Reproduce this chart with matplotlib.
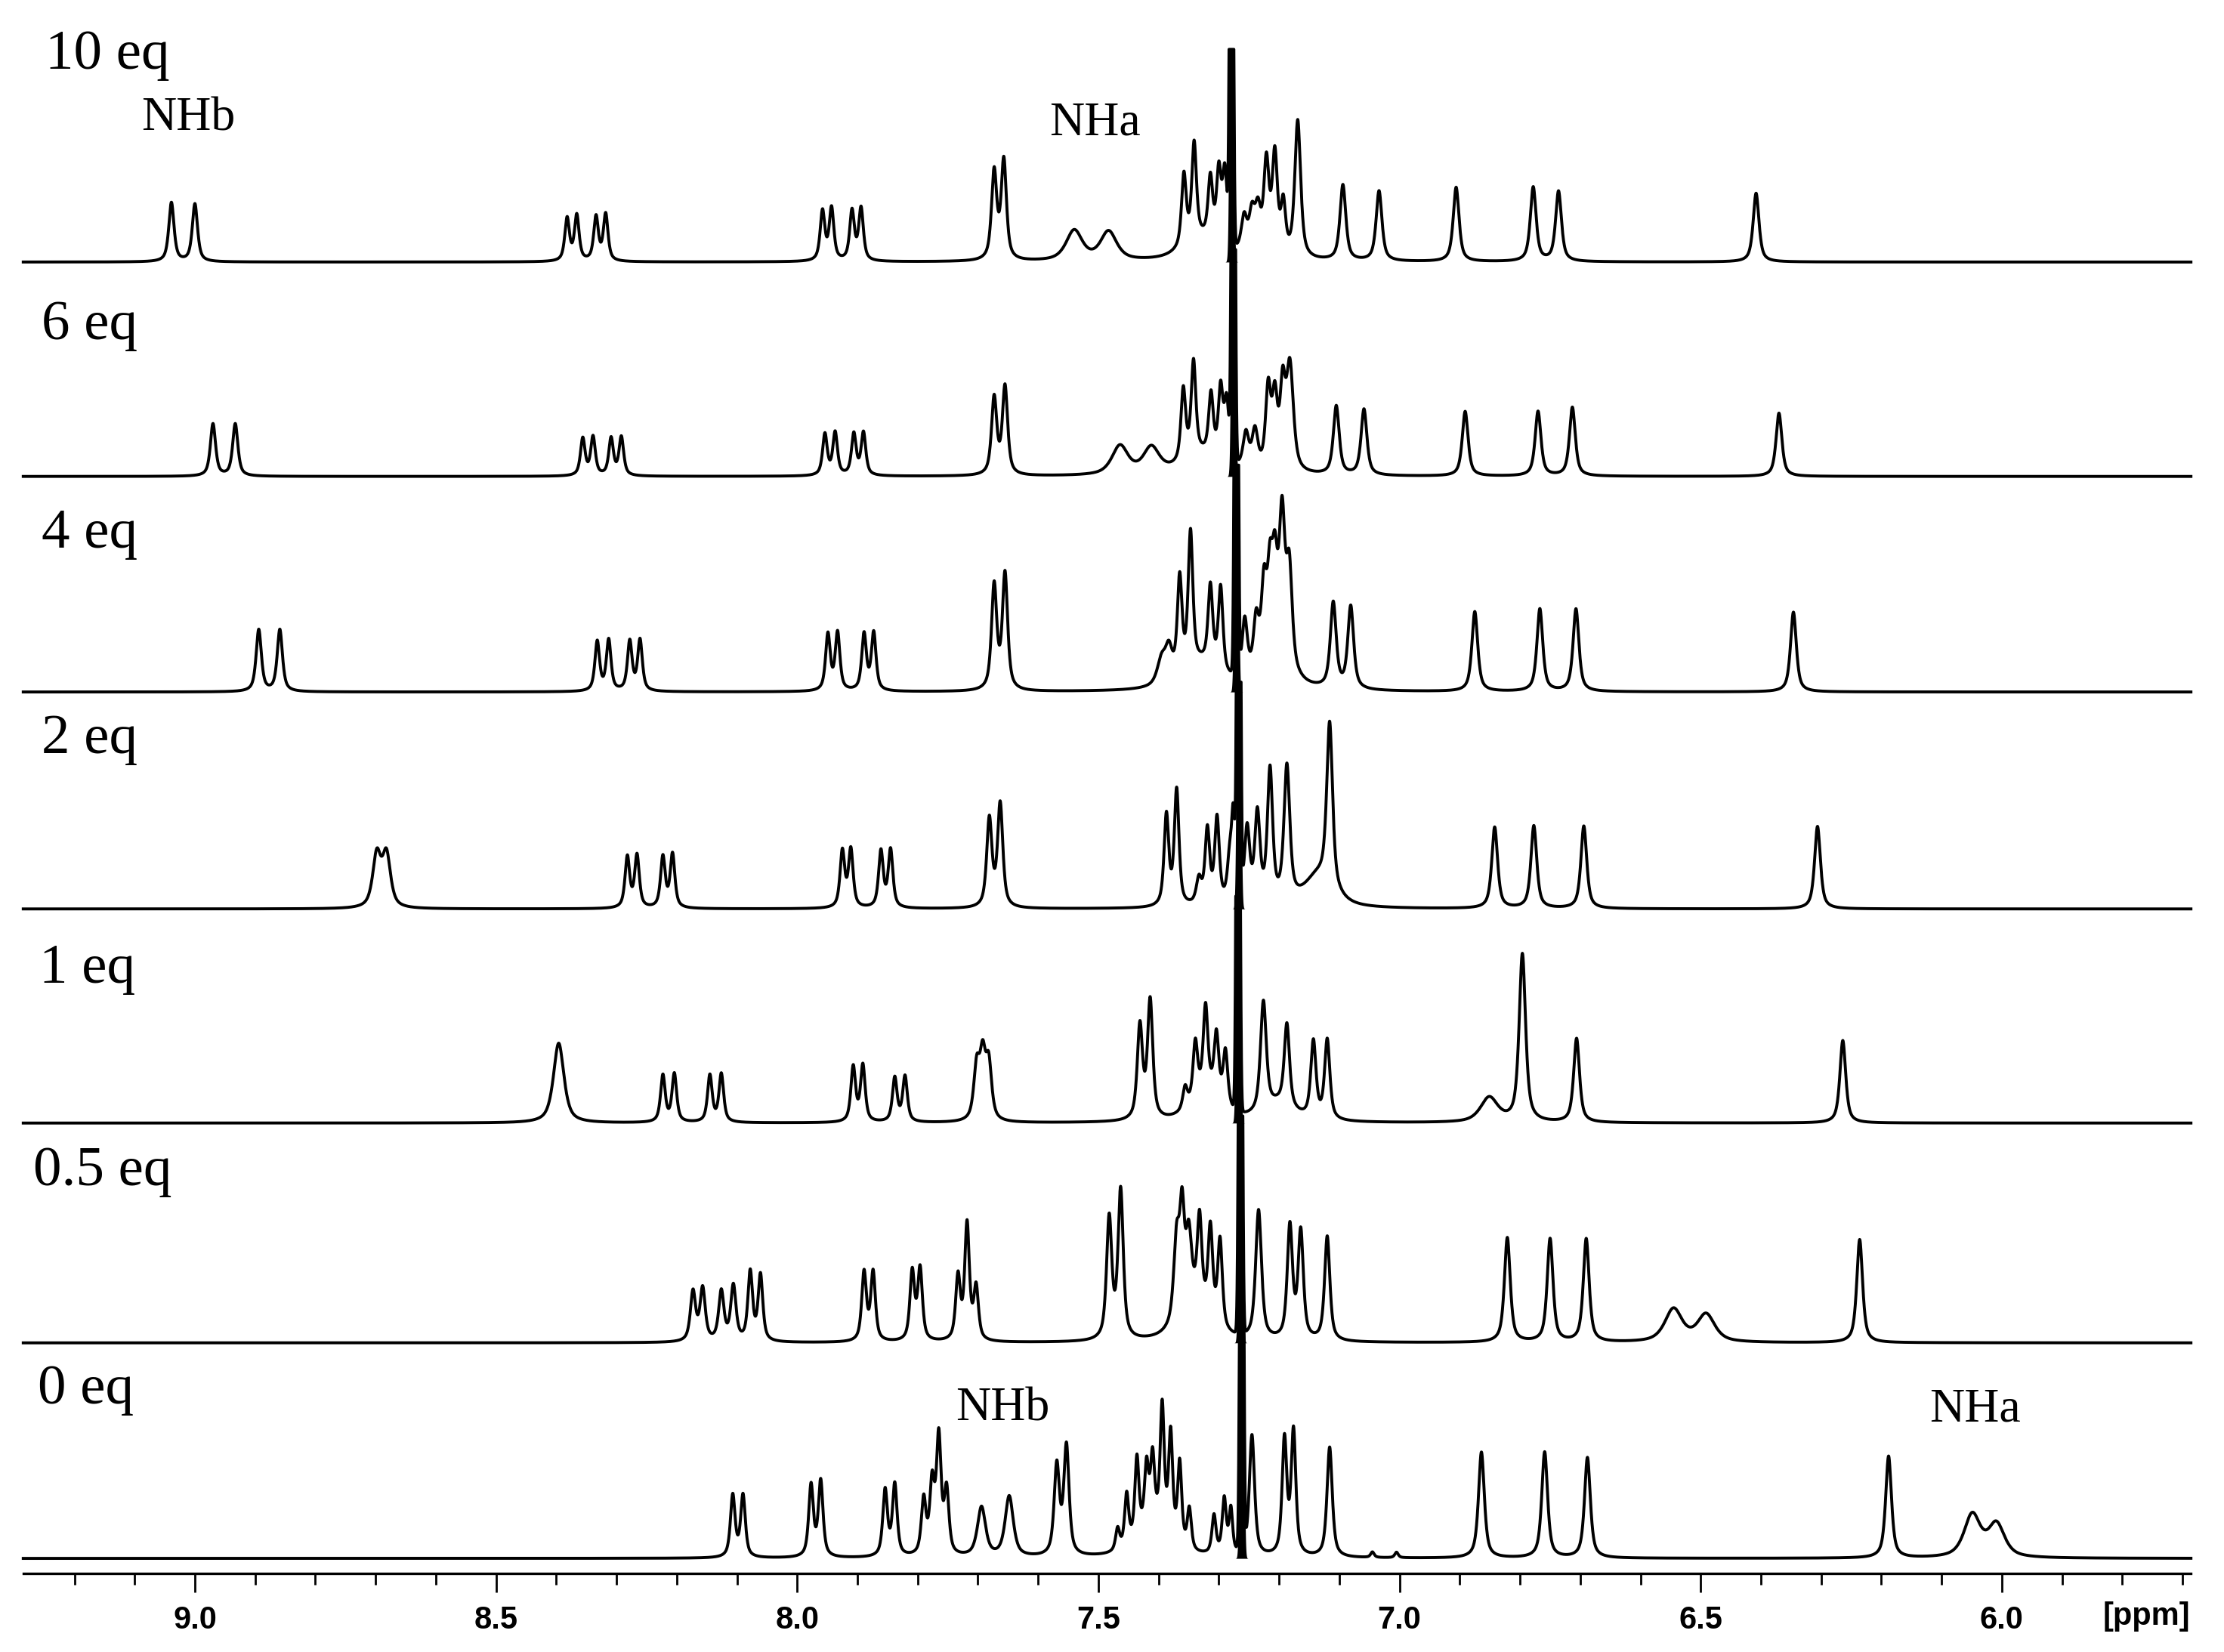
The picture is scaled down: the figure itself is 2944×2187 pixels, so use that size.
import numpy as np
import matplotlib
matplotlib.use('Agg')
import matplotlib.pyplot as plt
from matplotlib.ticker import MultipleLocator, FormatStrFormatter

# peak lists: (shift in ppm, height, width in ppm)
peaks_10eq = [(9.039, 43, .009), (9.000, 42, .009),
              (8.382, 31, .008), (8.366, 33, .008), (8.334, 32, .008), (8.318, 34, .008),
              (7.958, 36, .008), (7.943, 38, .008), (7.909, 36, .008), (7.894, 38, .008),
              (7.673, 64, .009), (7.657, 72, .009),
              (7.540, 22, .028), (7.483, 21, .028),
              (7.358, 52, .008), (7.341, 70, .008), (7.314, 45, .008), (7.300, 52, .008), (7.290, 55, .008), (7.33, 15, .06),
              (7.258, 26, .010), (7.245, 28, .010), (7.235, 30, .010),
              (7.221, 66, .009), (7.207, 72, .009), (7.193, 36, .008), (7.169, 100, .010),
              (7.094, 55, .010), (7.034, 51, .010), (6.906, 54, .010), (6.778, 54, .010), (6.736, 51, .010), (6.408, 50, .010)]

peaks_6eq = [(8.970, 38, .009), (8.933, 38, .009),
             (8.356, 27, .008), (8.339, 28, .008), (8.309, 27, .008), (8.292, 28, .008),
             (7.954, 30, .008), (7.937, 31, .008), (7.906, 30, .008), (7.890, 31, .008),
             (7.673, 56, .009), (7.655, 64, .009),
             (7.464, 21, .028), (7.412, 19, .028),
             (7.359, 52, .008), (7.342, 68, .008), (7.313, 45, .008), (7.297, 52, .008), (7.287, 45, .008), (7.33, 14, .06),
             (7.255, 26, .010), (7.240, 28, .010),
             (7.218, 58, .009), (7.207, 50, .009), (7.194, 56, .009), (7.182, 76, .012),
             (7.105, 50, .010), (7.059, 48, .010), (6.891, 47, .010), (6.770, 47, .010), (6.713, 50, .010), (6.370, 46, .010)]

peaks_4eq = [(8.894, 45, .009), (8.859, 45, .009),
             (8.332, 36, .008), (8.313, 37, .008), (8.278, 36, .008), (8.261, 37, .008),
             (7.949, 41, .008), (7.933, 42, .008), (7.889, 41, .008), (7.873, 42, .008),
             (7.673, 76, .009), (7.655, 84, .009),
             (7.395, 18, .015), (7.383, 22, .012),
             (7.365, 70, .008), (7.347, 98, .008), (7.314, 58, .008), (7.297, 62, .008), (7.33, 18, .06),
             (7.257, 42, .009), (7.238, 36, .009), (7.225, 54, .009), (7.215, 56, .009), (7.207, 60, .009),
             (7.195, 104, .010), (7.183, 72, .010), (7.21, 20, .05),
             (7.110, 62, .010), (7.081, 60, .010), (6.875, 58, .010), (6.767, 60, .010), (6.707, 60, .010), (6.346, 58, .010)]

peaks_2eq = [(8.698, 38, .014), (8.682, 38, .014),
             (8.282, 37, .008), (8.266, 38, .008), (8.223, 37, .008), (8.207, 39, .008),
             (7.925, 41, .008), (7.911, 42, .008), (7.861, 41, .008), (7.845, 42, .008),
             (7.681, 64, .009), (7.663, 75, .009),
             (7.387, 66, .008), (7.370, 84, .008), (7.333, 18, .009), (7.319, 54, .008), (7.303, 62, .008),
             (7.282, 30, .008), (7.276, 60, .006),
             (7.253, 54, .009), (7.236, 64, .009), (7.215, 96, .009), (7.187, 98, .010),
             (7.135, 22, .050), (7.116, 120, .010),
             (6.842, 59, .010), (6.777, 60, .010), (6.694, 60, .010), (6.306, 60, .010)]

peaks_1eq = [(8.396, 58, .018),
             (8.223, 34, .008), (8.204, 35, .008), (8.145, 34, .008), (8.126, 35, .008),
             (7.907, 40, .008), (7.891, 41, .008), (7.838, 32, .008), (7.821, 33, .008),
             (7.702, 38, .010), (7.692, 44, .010), (7.682, 40, .010),
             (7.431, 68, .009), (7.414, 86, .009),
             (7.356, 16, .008), (7.339, 42, .008), (7.322, 62, .008), (7.304, 46, .008), (7.289, 40, .008), (7.32, 20, .05),
             (7.226, 80, .010), (7.187, 60, .009), (7.143, 56, .009), (7.120, 58, .009), (7.20, 12, .05),
             (6.851, 18, .030), (6.796, 122, .011),
             (6.706, 61, .010), (6.264, 60, .010)]

peaks_05eq = [(8.173, 36, .009), (8.157, 38, .009), (8.126, 36, .009), (8.106, 40, .009), (8.078, 50, .008), (8.061, 48, .008),
              (7.889, 50, .008), (7.874, 50, .008),
              (7.809, 50, .008), (7.796, 52, .008),
              (7.733, 46, .008), (7.718, 84, .008), (7.703, 38, .008),
              (7.482, 88, .009), (7.463, 108, .009),
              (7.370, 60, .010), (7.361, 70, .008), (7.350, 52, .010), (7.332, 64, .008), (7.314, 66, .008), (7.298, 64, .008), (7.34, 25, .05),
              (7.234, 94, .010), (7.182, 82, .009), (7.164, 78, .009), (7.120, 76, .009),
              (6.821, 76, .010), (6.750, 75, .010), (6.690, 75, .010),
              (6.545, 24, .030), (6.491, 20, .030),
              (6.236, 75, .010)]

peaks_0eq = [(8.107, 45, .008), (8.090, 45, .008),
             (7.977, 52, .008), (7.961, 55, .008),
             (7.854, 48, .008), (7.838, 52, .008),
             (7.790, 40, .008), (7.776, 50, .008), (7.765, 84, .008), (7.752, 46, .008),
             (7.694, 36, .014), (7.648, 44, .014),
             (7.569, 65, .009), (7.553, 79, .009),
             (7.468, 16, .007), (7.453, 38, .007), (7.436, 58, .007), (7.420, 44, .007), (7.410, 48, .007),
             (7.394, 90, .007), (7.380, 76, .007), (7.365, 60, .007), (7.349, 30, .007), (7.41, 22, .05),
             (7.308, 28, .007), (7.291, 40, .007), (7.280, 32, .006),
             (7.245, 88, .009), (7.191, 84, .008), (7.176, 90, .008), (7.116, 80, .009),
             (7.045, 4, .006), (7.005, 4, .006),
             (6.864, 77, .010), (6.759, 77, .010), (6.688, 73, .010), (6.188, 74, .010),
             (6.049, 31, .028), (6.009, 24, .028)]

spectra = [peaks_10eq, peaks_6eq, peaks_4eq, peaks_2eq, peaks_1eq, peaks_05eq, peaks_0eq]
labels = ['10 eq', '6 eq', '4 eq', '2 eq', '1 eq', '0.5 eq', '0 eq']
solvent_ppm = [7.279, 7.276, 7.271, 7.267, 7.268, 7.264, 7.262]   # CHCl3, clipped
solvent_top = [150, 160, 160, 160, 160, 160, 160]

# layout (figure measured in units of the 1165-px-high preview)
baselines = [184.8, 336, 488, 641, 792, 947, 1099]
label_x = [9.248, 9.254, 9.254, 9.254, 9.259, 9.269, 9.261]
label_y = [48.5, 239, 386, 531, 693, 836, 990]


def pv(x, c, h, w):
    d = (x - c) / w
    return h * (0.7 / (1 + 4 * d ** 2) + 0.3 * np.exp(-4 * np.log(2) * d ** 2))


x_left, x_right = 9.3236, 5.6311
ppm = np.linspace(9.285, 5.686, 30000)

fig = plt.figure(figsize=(29.44, 21.87), dpi=100)
ax = fig.add_axes([0, 0, 1, 1])
ax.set_xlim(x_left, x_right)
ax.set_ylim(1165, 0)
ax.axis('off')

for pk, b, sp, top in zip(spectra, baselines, solvent_ppm, solvent_top):
    y = np.zeros_like(ppm)
    for c, h, w in pk:
        y += pv(ppm, c, h * 0.97, w * 1.15)
    solv = np.minimum(4 * top * np.exp(-4 * np.log(2) * ((ppm - sp) / 0.0055) ** 2), top)
    y = np.minimum(y + solv, top)
    ax.plot(ppm, b - y, color='black', lw=2.8, solid_joinstyle='round')
    near = np.abs(ppm - sp) < 0.012
    ax.fill_between(ppm[near], b - solv[near], b, color='black', lw=0)

serif = 'Liberation Serif'
for lab, lx, ly in zip(labels, label_x, label_y):
    ax.text(lx, ly, lab, fontsize=54, family=serif, va='baseline', ha='left')

ax.text(9.089, 92, 'NHb', fontsize=46, family=serif, va='baseline')
ax.text(7.581, 95, 'NHa', fontsize=46, family=serif, va='baseline')
ax.text(7.737, 1001.5, 'NHb', fontsize=46, family=serif, va='baseline')
ax.text(6.120, 1002.5, 'NHa', fontsize=46, family=serif, va='baseline')

# ppm axis
a0, a1 = 9.285, 5.686
span = x_left - x_right
left = (x_left - a0) / span
width = (a0 - a1) / span
axb = fig.add_axes([left, 0.0476, width, 0.0005])
axb.set_xlim(a0, a1)
axb.set_yticks([])
for s in ['top', 'left', 'right']:
    axb.spines[s].set_visible(False)
axb.spines['bottom'].set_linewidth(2.4)
axb.patch.set_alpha(0)
axb.xaxis.set_major_locator(MultipleLocator(0.5))
axb.xaxis.set_minor_locator(MultipleLocator(0.1))
axb.xaxis.set_major_formatter(FormatStrFormatter('%.1f'))
axb.tick_params(axis='x', which='major', length=18, width=2.0, pad=12,
                labelsize=30, direction='out')
axb.tick_params(axis='x', which='minor', length=11, width=2.0, direction='out')
for t in axb.get_xticklabels():
    t.set_fontfamily('Liberation Sans')
    t.set_fontweight('bold')
fig.text((x_left - 5.76) / span, 0.0215, '[ppm]', fontsize=30,
         family='Liberation Sans', weight='bold', ha='center', va='center')

fig.savefig('out.png', dpi=100)
